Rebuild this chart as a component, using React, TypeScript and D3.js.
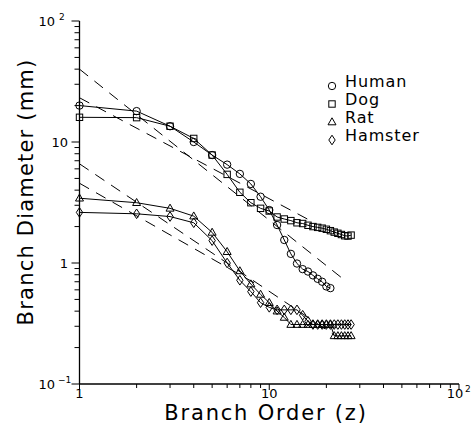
import React from 'react';
import * as d3 from 'd3';

// branch diameters (mm) per order z = 1, 2, 3 ...
const humanD = [20, 18, 13.5, 10.0, 7.8, 6.5, 5.45, 4.5, 3.53, 2.74, 2.06, 1.55, 1.19, 0.99, 0.89, 0.85, 0.79, 0.74, 0.70, 0.64, 0.62];
const dogD = [16, 15.9, 13.5, 10.7, 7.8, 5.4, 3.84, 3.15, 2.83, 2.69, 2.4, 2.31, 2.24, 2.15, 2.12, 2.05, 2.0, 1.97, 1.94, 1.9, 1.85, 1.8, 1.76, 1.72, 1.68, 1.67, 1.7];
const ratD = [3.43, 3.15, 2.83, 2.44, 1.79, 1.24, 0.86, 0.67, 0.55, 0.47, 0.4, 0.355, 0.31, 0.31, 0.31, 0.31, 0.31, 0.31, 0.31, 0.31, 0.31, 0.25, 0.25, 0.25, 0.25, 0.25, 0.25];
const hamsterD = [2.62, 2.55, 2.42, 2.15, 1.53, 1.0, 0.72, 0.58, 0.47, 0.43, 0.41, 0.41, 0.41, 0.41, 0.37, 0.33, 0.31, 0.31, 0.31, 0.31, 0.31, 0.31, 0.31, 0.31, 0.31, 0.31, 0.31];

// dashed fit lines: [z, d] start and end
const fitLines = [
  [[1, 40], [25, 0.72]],
  [[1, 23.2], [16.3, 2.26]],
  [[1, 6.6], [22, 0.254]],
  [[1, 4.56], [9, 0.64]],
];

const legendNames = ['Human', 'Dog', 'Rat', 'Hamster'];
const shapes = ['circle', 'square', 'triangle', 'diamond'];

const font = "'DejaVu Sans', sans-serif";

const x = d3.scaleLog().domain([1, 100]).range([79.5, 459]);
const y = d3.scaleLog().domain([0.1, 100]).range([384, 21]);

function Marker({ shape, cx, cy }) {
  const st = { fill: 'none', stroke: '#000', strokeWidth: 1 };
  if (shape === 'circle') return <circle cx={cx} cy={cy} r={3.7} {...st} />;
  if (shape === 'square') return <rect x={cx - 3.2} y={cy - 3.2} width={6.4} height={6.4} {...st} />;
  if (shape === 'triangle')
    return <path d={`M${cx},${cy - 4.2}L${cx + 4},${cy + 2.8}L${cx - 4},${cy + 2.8}Z`} {...st} />;
  return <path d={`M${cx},${cy - 4.8}L${cx + 3.2},${cy}L${cx},${cy + 4.8}L${cx - 3.2},${cy}Z`} {...st} />;
}

const minors = (lo, hi) => {
  const out = [];
  for (let e = lo; e < hi; e++) for (let k = 2; k <= 9; k++) out.push(k * Math.pow(10, e));
  return out;
};

export default function App() {
  const series = [humanD, dogD, ratD, hamsterD];
  const line = d3.line().x(d => x(d[0])).y(d => y(d[1]));

  return (
    <svg width={471} height={425} style={{ position: 'absolute', left: 0, top: 0, background: '#fff' }}>
      {/* axes */}
      <line x1={x(1)} x2={x(100)} y1={y(0.1)} y2={y(0.1)} stroke="#000" strokeWidth={1.3} />
      <line x1={x(1)} x2={x(1)} y1={y(0.1)} y2={y(100)} stroke="#000" strokeWidth={1.3} />
      {[0.1, 1, 10, 100].map(v => (
        <line key={'ym' + v} x1={x(1) - 8} x2={x(1)} y1={y(v)} y2={y(v)} stroke="#000" />
      ))}
      {minors(-1, 2).map(v => (
        <line key={'yn' + v} x1={x(1) - 5} x2={x(1)} y1={y(v)} y2={y(v)} stroke="#000" />
      ))}
      {[1, 10, 100].map(v => (
        <line key={'xm' + v} x1={x(v)} x2={x(v)} y1={y(0.1)} y2={y(0.1) + 6} stroke="#000" />
      ))}
      {minors(0, 2).map(v => (
        <line key={'xn' + v} x1={x(v)} x2={x(v)} y1={y(0.1)} y2={y(0.1) + 4} stroke="#000" />
      ))}

      {/* tick labels */}
      <g fontFamily={font} fontSize={13}>
        <text x={55} y={y(100) + 5} textAnchor="end">10</text>
        <text x={59} y={y(100) - 1} fontSize={9}>2</text>
        <text x={68} y={y(10) + 5} textAnchor="end">10</text>
        <text x={68} y={y(1) + 5} textAnchor="end">1</text>
        <text x={55} y={y(0.1) + 5} textAnchor="end">10</text>
        <text x={58} y={y(0.1) - 1} fontSize={9}>−1</text>
        <text x={x(1)} y={398} textAnchor="middle">1</text>
        <text x={x(10)} y={398} textAnchor="middle">10</text>
        <text x={x(100) - 4} y={398} textAnchor="middle">10</text>
        <text x={x(100) + 6} y={392} fontSize={9}>2</text>
      </g>

      {/* axis titles */}
      <text x={266} y={420} textAnchor="middle" fontFamily={font} fontSize={21} letterSpacing={1.8}>
        Branch Order (z)
      </text>
      <text transform={`translate(33,${192}) rotate(-90)`} textAnchor="middle" fontFamily={font} fontSize={21} letterSpacing={1.2}>
        Branch Diameter (mm)
      </text>

      {/* fit lines */}
      {fitLines.map((f, i) => (
        <path key={'f' + i} d={line(f)} fill="none" stroke="#000" strokeWidth={1} strokeDasharray="11,8" />
      ))}

      {/* data */}
      {series.map((s, i) => {
        const pts = s.map((d, j) => [j + 1, d]);
        return (
          <g key={'s' + i}>
            <path d={line(pts)} fill="none" stroke="#000" strokeWidth={1} />
            {pts.map((p, j) => (
              <Marker key={j} shape={shapes[i]} cx={x(p[0])} cy={y(p[1])} />
            ))}
          </g>
        );
      })}

      {/* legend */}
      {legendNames.map((n, i) => (
        <g key={'l' + i}>
          <Marker shape={shapes[i]} cx={332} cy={86 + i * 18} />
          <text x={345} y={87 + i * 18} fontFamily={font} fontSize={16} letterSpacing={0.9}>{n}</text>
        </g>
      ))}
    </svg>
  );
}
